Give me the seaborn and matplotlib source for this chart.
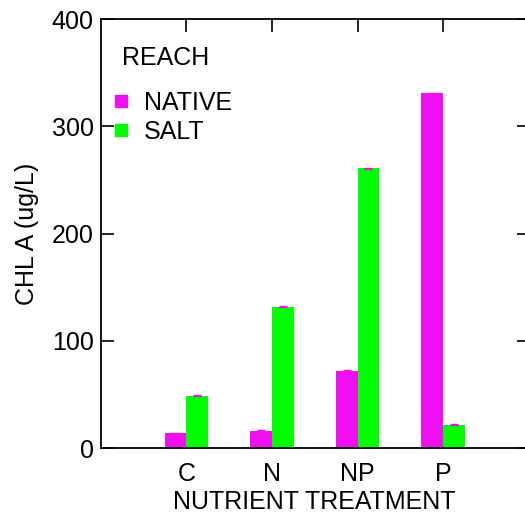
import pandas as pd
import matplotlib
matplotlib.use("Agg")
import matplotlib.pyplot as plt
from matplotlib.lines import Line2D
import seaborn as sns

treatments = ["C", "N", "NP", "P"]
reaches = ["NATIVE", "SALT"]
native_chl = [14, 16, 72, 331]
salt_chl = [49, 132, 261, 22]
native_err = [0.6, 0.6, 0.6, 0.6]
salt_err = [0.6, 0.6, 0.6, 0.6]
colors = {"NATIVE": "#f00ff0", "SALT": "#00ff00"}

df = pd.DataFrame({
    "treatment": treatments * 2,
    "reach": ["NATIVE"] * len(treatments) + ["SALT"] * len(treatments),
    "chl": native_chl + salt_chl,
    "err": native_err + salt_err,
})

sns.set_style("ticks")
plt.rcParams["font.family"] = ["Liberation Sans", "DejaVu Sans"]
plt.rcParams["text.color"] = "black"
plt.rcParams["axes.labelcolor"] = "black"
fs = 18

fig = plt.figure(figsize=(5.25, 5.14), dpi=100)
ax = fig.add_axes([0.192, 0.128, 0.815, 0.8346])

sns.barplot(data=df, x="treatment", y="chl", hue="reach", order=treatments,
            hue_order=reaches, palette=colors, width=0.51, errorbar=None,
            saturation=1, legend=False, linewidth=0, edgecolor="none", ax=ax)

# tiny error bars on top of each bar
for p, e in zip(ax.patches, df["err"]):
    ax.errorbar(p.get_x() + p.get_width() / 2, p.get_height(), yerr=e,
                color=colors["NATIVE"], capsize=3, elinewidth=1, capthick=1,
                zorder=3)

ax.set_xlim(-1, 4)
ax.set_ylim(0, 400)
ax.set_yticks([0, 100, 200, 300, 400])
ax.tick_params(direction="in", length=9, width=1.2, top=True, right=True,
               labelsize=fs, pad=5, colors="black")
ax.tick_params(axis="x", pad=10)
for s in ax.spines.values():
    s.set_linewidth(1.3)
    s.set_color("black")

ax.set_xlabel("NUTRIENT TREATMENT", fontsize=fs, labelpad=3)
ax.set_ylabel("CHL A (ug/L)", fontsize=fs, labelpad=9)

handles = [Line2D([], [], marker="s", linestyle="none", markersize=9,
                  markerfacecolor=colors[r], markeredgecolor=colors[r])
           for r in reaches]
ax.legend(handles, reaches, loc="upper left", bbox_to_anchor=(0.024, 0.833),
          frameon=False, fontsize=fs, handlelength=0.8, handletextpad=0.5,
          labelspacing=0.2, borderpad=0, borderaxespad=0)
ax.text(0.05, 0.91, "REACH", transform=ax.transAxes, fontsize=fs,
        ha="left", va="center")

fig.savefig("out.png", dpi=100)
